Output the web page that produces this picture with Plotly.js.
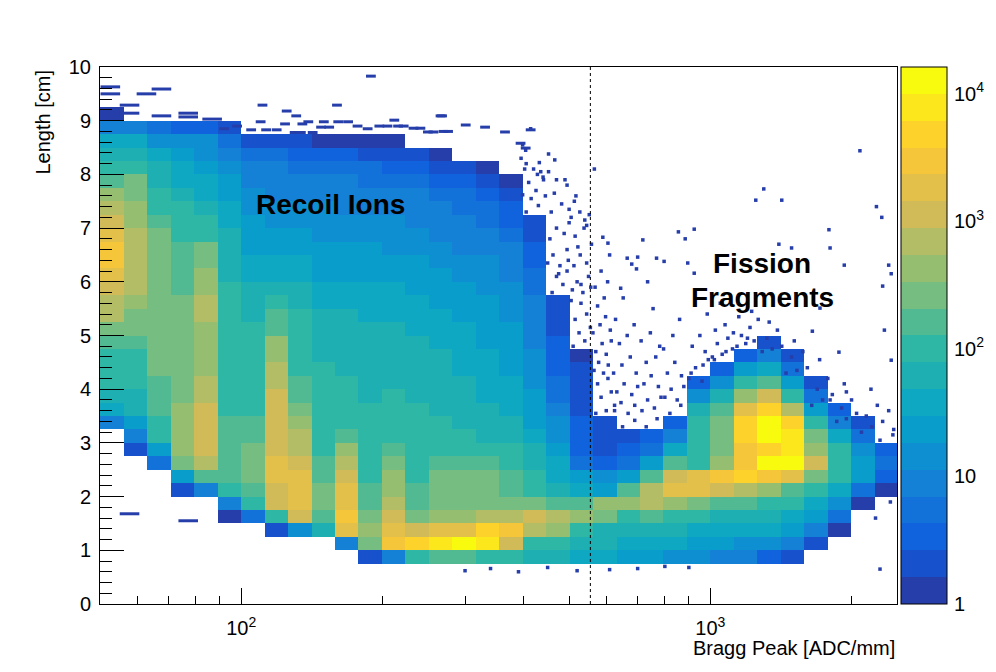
<!DOCTYPE html>
<html><head><meta charset="utf-8">
<script src="https://cdn.plot.ly/plotly-3.0.1.min.js"></script>
<style>html,body{margin:0;padding:0;background:#fff}#chart{width:996px;height:672px}</style>
</head><body><div id="chart"></div>
<script>
const _ = null;
// Bin edges (x: Bragg peak ADC/mm, log bins; y: track length cm)
const braggEdges = [50, 56.23, 63.10, 70.79, 79.43, 89.13, 100, 112.2, 125.9, 141.3, 158.5, 177.8, 199.5, 223.9, 251.2, 281.8, 316.2, 354.8, 398.1, 446.7, 501.2, 562.3, 631.0, 707.9, 794.3, 891.3, 1000, 1122, 1259, 1413, 1585, 1778, 1995, 2239, 2512];
const lengthEdges = [0,0.25,0.5,0.75,1,1.25,1.5,1.75,2,2.25,2.5,2.75,3,3.25,3.5,3.75,4,4.25,4.5,4.75,5,5.25,5.5,5.75,6,6.25,6.5,6.75,7,7.25,7.5,7.75,8,8.25,8.5,8.75,9,9.25,9.5,9.75,10];
// log10(counts) per Bragg-peak column, listed from Length 0 upward (null = empty bin)
const col00 = [_,_,_,_,_,_,_,_,_,_, _,_,_,1.0,1.6,1.8,2.0,2.05,2.1,2.2, 2.5,2.75,2.9,3.1,3.35,3.45,3.4,3.2,3.1,2.8, 2.6,2.3,2.1,1.7,1.5,0.9,0.2,_,_,_];
const col01 = [_,_,_,_,_,_,_,_,_,_, _,0.3,0.9,1.4,1.7,1.85,1.95,2.0,2.1,2.3, 2.45,2.5,2.6,2.75,2.8,2.85,2.85,2.8,2.7,2.55, 2.5,2.45,2.1,1.7,1.5,0.9,_,_,_,_];
const col02 = [_,_,_,_,_,_,_,_,_,_, 0.8,1.4,1.9,2.1,2.2,2.3,2.3,2.35,2.4,2.4, 2.45,2.5,2.5,2.5,2.5,2.5,2.45,2.4,2.25,2.1, 2.0,1.85,1.7,1.5,1.2,0.8,_,_,_,_];
const col03 = [_,_,_,_,_,_,_,_,0.3,1.4, 2.4,2.6,2.65,2.6,2.55,2.45,2.4,2.4,2.4,2.4, 2.4,2.4,2.35,2.3,2.25,2.2,2.15,2.1,2.0,1.9, 1.7,1.6,1.55,1.4,1.1,0.6,_,_,_,_];
const col04 = [_,_,_,_,_,_,_,_,0.9,2.2, 2.9,3.0,3.0,3.0,2.95,2.9,2.85,2.7,2.65,2.7, 2.7,2.75,2.75,2.7,2.55,2.5,2.4,2.0,1.9,1.85, 1.6,1.5,1.35,1.2,1.1,0.6,_,_,_,_];
const col05 = [_,_,_,_,_,_,0.2,1.0,2.0,2.2, 2.25,2.25,2.2,2.15,2.1,2.1,2.1,2.05,2.0,2.0, 1.95,1.95,1.9,1.9,1.85,1.85,1.8,1.7,1.6,1.5, 1.45,1.35,1.2,1.0,0.8,0.4,_,_,_,_];
const col06 = [_,_,_,_,_,_,0.8,2.0,2.3,2.35, 2.4,2.35,2.2,2.15,2.1,2.05,2.0,2.0,1.95,1.95, 1.9,1.85,1.8,1.7,1.6,1.55,1.45,1.4,1.3,1.25, 1.1,1.0,0.9,0.7,0.35,_,_,_,_,_];
const col07 = [_,_,_,_,_,0.3,2.0,3.0,3.1,3.2, 3.2,3.1,3.05,3.0,3.0,2.95,2.9,2.8,2.7,2.55, 2.3,2.2,1.9,1.8,1.65,1.55,1.45,1.35,1.25,1.2, 1.05,0.95,0.85,0.65,0.3,_,_,_,_,_];
const col08 = [_,_,_,_,_,1.2,3.0,3.3,3.35,3.3, 3.1,2.9,2.8,2.6,2.4,2.3,2.2,2.1,2.05,2.0, 1.95,1.9,1.8,1.7,1.6,1.5,1.4,1.35,1.25,1.15, 1.05,0.95,0.8,0.6,0.25,_,_,_,_,_];
const col09 = [_,_,_,_,_,1.8,2.3,2.4,2.35,2.3, 2.2,2.1,2.05,2.0,1.95,1.95,1.9,1.9,1.85,1.8, 1.75,1.7,1.6,1.55,1.45,1.4,1.3,1.25,1.15,1.1, 0.95,0.85,0.75,0.5,0.2,_,_,_,_,_];
const col10 = [_,_,_,_,1.0,3.3,3.45,3.35,3.2,3.05, 2.9,2.6,2.3,2.1,2.0,1.95,1.9,1.85,1.85,1.8, 1.75,1.7,1.6,1.55,1.45,1.4,1.3,1.2,1.15,1.05, 0.95,0.85,0.7,0.45,0.15,_,_,_,_,_];
const col11 = [_,_,_,0.3,2.5,2.7,2.4,2.3,2.2,2.1, 2.05,2.0,1.95,1.9,1.9,1.85,1.85,1.8,1.8,1.75, 1.7,1.65,1.6,1.5,1.45,1.35,1.3,1.2,1.1,1.0, 0.9,0.8,0.65,0.4,0.1,_,_,_,_,_];
const col12 = [_,_,_,1.0,3.4,3.3,3.15,2.9,2.7,2.6, 2.45,2.3,2.1,2.0,1.95,1.9,1.85,1.85,1.8,1.75, 1.7,1.65,1.55,1.5,1.4,1.35,1.25,1.15,1.1,1.0, 0.9,0.75,0.6,0.35,0.1,_,_,_,_,_];
const col13 = [_,_,_,2.1,3.6,3.0,2.5,2.3,2.2,2.1, 2.05,2.0,1.95,1.9,1.9,1.85,1.8,1.8,1.75,1.7, 1.65,1.6,1.5,1.45,1.35,1.3,1.2,1.1,1.0,0.95, 0.85,0.7,0.5,0.3,_,_,_,_,_,_];
const col14 = [_,_,_,2.3,3.9,3.3,2.6,2.5,2.45,2.4, 2.2,2.05,1.95,1.9,1.85,1.8,1.75,1.75,1.7,1.65, 1.6,1.55,1.45,1.4,1.3,1.25,1.15,1.05,0.95,0.9, 0.8,0.6,0.4,0.2,_,_,_,_,_,_];
const col15 = [_,_,_,2.3,4.1,3.3,2.6,2.5,2.45,2.35, 2.2,2.05,1.9,1.85,1.8,1.75,1.7,1.65,1.6,1.55, 1.5,1.45,1.4,1.3,1.25,1.15,1.05,1.0,0.9,0.8, 0.7,0.5,0.3,_,_,_,_,_,_,_];
const col16 = [_,_,_,2.0,3.8,3.6,2.9,2.5,2.5,2.4, 2.2,2.0,1.85,1.8,1.7,1.65,1.6,1.55,1.5,1.45, 1.4,1.35,1.3,1.25,1.15,1.1,1.0,0.9,0.8,0.7, 0.55,0.35,0.1,_,_,_,_,_,_,_];
const col17 = [_,_,_,1.9,3.0,3.4,2.9,2.4,2.3,2.2, 2.05,1.9,1.75,1.7,1.6,1.55,1.5,1.45,1.4,1.35, 1.3,1.25,1.2,1.1,1.0,0.95,0.85,0.75,0.6,0.5, 0.3,0.1,_,_,_,_,_,_,_,_];
const col18 = [_,_,_,1.8,2.1,2.9,3.0,2.4,2.0,1.9, 1.8,1.7,1.55,1.45,1.35,1.3,1.25,1.15,1.1,1.05, 0.95,0.9,0.85,0.8,0.7,0.6,0.5,0.4,0.3,_, _,_,_,_,_,_,_,_,_,_];
const col19 = [_,_,_,1.7,2.0,2.6,2.8,2.2,1.8,1.6, 1.5,1.4,1.2,1.1,0.9,0.8,0.7,0.6,0.5,0.45, 0.4,0.35,0.3,_,_,_,_,_,_,_, _,_,_,_,_,_,_,_,_,_];
const col20 = [_,_,_,1.6,1.8,2.1,2.65,2.2,1.5,1.3, 0.8,0.6,0.5,0.45,0.4,0.35,0.3,0.25,0.2,_, _,_,_,_,_,_,_,_,_,_, _,_,_,_,_,_,_,_,_,_];
const col21 = [_,_,_,1.5,1.7,1.8,2.4,2.6,1.4,1.1, 0.6,0.4,0.3,0.25,_,_,_,_,_,_, _,_,_,_,_,_,_,_,_,_, _,_,_,_,_,_,_,_,_,_];
const col22 = [_,_,_,1.4,1.6,1.7,2.1,2.7,2.2,1.4, 0.8,0.5,0.3,_,_,_,_,_,_,_, _,_,_,_,_,_,_,_,_,_, _,_,_,_,_,_,_,_,_,_];
const col23 = [_,_,_,1.3,1.6,1.8,2.2,2.8,2.9,2.2, 1.4,0.8,0.5,_,_,_,_,_,_,_, _,_,_,_,_,_,_,_,_,_, _,_,_,_,_,_,_,_,_,_];
const col24 = [_,_,_,1.2,1.5,1.7,2.1,2.6,3.2,3.0, 2.2,1.5,0.9,0.5,_,_,_,_,_,_, _,_,_,_,_,_,_,_,_,_, _,_,_,_,_,_,_,_,_,_];
const col25 = [_,_,_,1.1,1.4,1.6,2.0,2.4,3.2,3.2, 2.1,2.0,2.0,1.9,1.7,1.2,0.6,_,_,_, _,_,_,_,_,_,_,_,_,_, _,_,_,_,_,_,_,_,_,_];
const col26 = [_,_,_,1.0,1.3,1.5,1.8,2.2,3.0,3.5, 2.6,2.5,2.5,2.4,2.3,1.8,1.1,0.5,_,_, _,_,_,_,_,_,_,_,_,_, _,_,_,_,_,_,_,_,_,_];
const col27 = [_,_,_,0.9,1.2,1.5,1.8,2.3,2.9,3.7, 3.5,3.4,3.6,3.6,3.3,2.6,1.9,1.3,0.6,_, _,_,_,_,_,_,_,_,_,_, _,_,_,_,_,_,_,_,_,_];
const col28 = [_,_,_,0.6,1.2,1.5,1.8,2.1,2.6,3.5, 4.0,3.7,4.15,4.1,3.6,3.0,2.3,1.6,1.0,0.4, _,_,_,_,_,_,_,_,_,_, _,_,_,_,_,_,_,_,_,_];
const col29 = [_,_,_,0.3,0.9,1.3,1.6,1.9,2.3,3.2, 4.05,3.8,3.9,3.6,2.9,2.1,1.4,0.8,0.3,_, _,_,_,_,_,_,_,_,_,_, _,_,_,_,_,_,_,_,_,_];
const col30 = [_,_,_,_,0.3,0.9,1.3,1.6,2.0,2.5, 3.0,2.7,2.5,2.1,1.4,0.8,0.3,_,_,_, _,_,_,_,_,_,_,_,_,_, _,_,_,_,_,_,_,_,_,_];
const col31 = [_,_,_,_,_,0.2,0.7,1.1,1.5,1.9, 2.1,1.9,1.5,1.0,0.5,_,_,_,_,_, _,_,_,_,_,_,_,_,_,_, _,_,_,_,_,_,_,_,_,_];
const col32 = [_,_,_,_,_,_,_,0.2,0.8,1.3, 1.4,1.2,0.7,0.3,_,_,_,_,_,_, _,_,_,_,_,_,_,_,_,_, _,_,_,_,_,_,_,_,_,_];
const col33 = [_,_,_,_,_,_,_,_,0.1,0.6, 0.7,0.5,_,_,_,_,_,_,_,_, _,_,_,_,_,_,_,_,_,_, _,_,_,_,_,_,_,_,_,_];
const logCountColumns = [col00,col01,col02,col03,col04,col05,col06,col07,col08,col09,col10,col11,col12,col13,col14,col15,col16,col17,col18,col19,col20,col21,col22,col23,col24,col25,col26,col27,col28,col29,col30,col31,col32,col33];

// single-count bins (count = 1) read off the sparse areas
// wide low-x bins at the top-left edge
const wideSingleX = [52.6, 52.6, 62.8, 67.6, 57.8, 57.8, 67.6, 77.1, 77.1, 86.7, 57.8, 77.1];
const wideSingleY = [9.63, 9.50, 9.50, 9.59, 9.29, 9.14, 9.09, 9.14, 9.07, 9.03, 1.68, 1.55];
// upper fringe of the recoil band
const fringeSingleX = [110,125,131,124,135,139,150,169, 105,113,119,130,134,142,148,154,161, 177,186,197,205,212,216,222, 233,241,250,257,266,270,276, 111,160,189,92,98, 268,301,331,365,414,394,404];
const fringeSingleY = [8.98,9.18,9.09,8.94,8.94,8.98,8.98,8.98, 8.83,8.83,8.83,8.78,8.78,8.78,8.88,8.88,8.98, 8.9,8.85,8.9,8.9,9.01,8.9,8.9, 8.86,8.86,8.79,8.79,9.09,8.8,8.8, 9.29,9.29,9.83,8.85,8.9, 9.09,8.92,8.88,8.79,8.83,8.58,8.49];
// scattered single counts
const sparseX = [398,410,425,440,402,432,415,445,395,428, 450,462,478,495,455,470,488,500,458,482,465,490,452,475,498,
  508,520,535,550,512,528,545,558,515,538,552,505,530,556,522,
  565,578,592,606,570,588,600,615,562,582,598,612,575,594,568,604,585,610,590,605,
  625,645,668,690,632,655,680,700,622,648,675,695,640,665,628,688,652,644,665,680,700,696,
  715,735,760,785,722,748,775,730,765,712,745,780,755,735,718,768,
  800,825,850,878,810,840,868,795,832,860,797,855,884,
  900,930,960,990,915,950,975,924,895,924,985,
  1010,1035,1060,1090,1115,1025,1075,1120,1050,
  1140,1165,1190,1215,1240,1265,1150,1225,1250,1300,
  1290,1320,1355,1390,1420,1335,1420,1400,
  1450,1490,1530,1575,1610,1510,1490,1650,
  1645,1690,1735,1780,1820,1710,1713,1790,1800,1880,
  1860,1905,1950,2000,2050,1930,1930,2084,
  2100,2150,2210,2270,2330,2400,2460,2200,2350,2430,2330,2400,2430,2260,2320,2300,2420,2250,2460,2380,
  414,398,404,452,466,405,420,435,441,470,566,517,495,500,527,540,545,513,
  300,340,390,450,520,610,700,800,900,
  405,430,460,485,470,495,510,540,525,555,515,545,530,505,
  570,600,625,585,615,575,605,650,690,730,770,820,865,910,965,1020,1080,1200,1800,1950,2300,2450];
const sparseY = [7.62,7.85,7.7,7.95,8.1,8.22,7.55,7.6,8.3,8.0, 6.35,6.5,6.3,6.6,6.8,7.0,6.9,7.1,7.3,7.45,7.65,7.9,8.05,6.15,6.4,
  5.85,6.0,5.8,6.1,6.3,6.5,6.35,6.7,6.85,7.0,7.25,7.2,5.95,5.9,6.65,
  4.35,4.5,4.3,4.45,4.7,4.85,4.65,4.9,5.05,5.2,5.35,5.1,5.55,5.7,5.9,6.0,6.2,6.5,6.83,6.72,
  3.6,3.75,3.55,3.7,3.95,4.1,3.9,4.05,4.3,4.45,4.6,4.3,4.85,5.0,5.3,5.2,5.7,5.88,6.44,6.33,6.46,6.24,
  3.6,3.8,3.65,3.85,4.1,4.25,4.05,4.5,4.6,4.9,5.05,4.8,5.5,6.0,6.78,6.44,
  3.85,4.0,3.8,4.05,4.3,4.5,4.25,4.75,5.0,5.3,6.38,6.93,6.8,
  4.2,4.4,4.15,4.55,4.8,5.0,4.7,6.16,6.35,6.98,5.4,
  4.6,4.85,4.65,4.95,4.75,5.1,5.2,5.05,5.6,
  4.8,5.0,4.85,5.15,4.9,5.3,5.35,5.45,7.52,7.73,
  4.7,4.95,4.75,5.1,4.8,5.25,7.52,6.7,
  4.3,4.6,4.35,4.7,4.4,4.9,6.63,5.08,
  3.7,4.0,3.8,4.2,3.9,4.55,5.51,6.97,6.63,4.69,
  3.4,3.65,3.45,3.8,3.55,4.1,6.31,8.44,
  3.2,3.5,3.3,3.7,3.4,3.6,3.25,4.0,5.1,4.54,5.92,6.31,6.15,7.4,7.2,0.65,1.9,1.6,2.05,2.2,
  8.85,8.55,8.45,8.38,8.27,8.2,8.1,8.05,7.9,7.9,8.1,7.6,7.8,7.35,7.3,7.15,7.05,7.5,
  0.62,0.66,0.6,0.68,0.62,0.64,0.66,0.7,0.68,
  7.3,7.42,5.8,5.95,6.1,6.2,4.8,4.9,5.05,5.15,5.3,5.4,5.6,5.65,
  3.55,3.6,3.7,3.85,3.95,4.1,4.2,3.3,3.42,3.3,3.45,3.55,3.7,4.3,4.45,4.55,4.7,4.95,3.8,3.95,3.05,3.15];

const cutValue = 555; // dashed vertical cut [ADC/mm]
const xTickVals = [100, 1000];
const xTickText = ['10<sup>2</sup>', '10<sup>3</sup>'];
const xMinorVals = [60,70,80,90,200,300,400,500,600,700,800,900,2000];
const cbTickVals = [1, 10, 100, 1000, 10000];
const cbTickText = ['1', '10', '10<sup>2</sup>', '10<sup>3</sup>', '10<sup>4</sup>'];
const cbMinorVals = [2,3,4,5,6,7,8,9,20,30,40,50,60,70,80,90,200,300,400,500,600,700,800,900,2000,3000,4000,5000,6000,7000,8000,9000];
const zMaxLog = 4.21;

// ROOT "kBird" palette, 20 contour bands
const birdStops = [[0,[53,42,135]],[0.125,[15,92,221]],[0.25,[20,129,214]],[0.375,[6,164,202]],[0.5,[46,183,164]],[0.625,[135,191,119]],[0.75,[209,187,89]],[0.875,[254,200,50]],[1,[249,251,14]]];
function bird(f){
  for (let i=0;i<birdStops.length-1;i++){
    const a=birdStops[i], b=birdStops[i+1];
    if (f<=b[0]+1e-9){
      const t=(f-a[0])/(b[0]-a[0]);
      const c=a[1].map((v,k)=>Math.round(v+(b[1][k]-v)*t));
      return 'rgb('+c.join(',')+')';
    }
  }
  return 'rgb(249,251,14)';
}
const nBands = 20;
const colorscale = [];
for (let i=0;i<nBands;i++){ const c=bird((i+1)/nBands); colorscale.push([i/nBands,c],[(i+1)/nBands,c]); }
const singleCountColor = bird(1/nBands);

const FONT = 'Liberation Sans, Arial, Helvetica, sans-serif';
const W = 996, H = 672, ML = 100, MR = 36, MT = 67, MB = 68;
const PW = W-ML-MR;
const xDomEnd = 797/PW;
const cbLeft = 801/PW;
const cbRight = 847/PW;

const traces = [
  {
    type: 'heatmap',
    x: braggEdges, y: lengthEdges, z: logCountColumns, transpose: true,
    zmin: 0, zmax: zMaxLog, colorscale: colorscale, zsmooth: false,
    hoverinfo: 'skip',
    colorbar: {x: cbLeft, xanchor: 'left', xref: 'paper', y: 0, yanchor: 'bottom', yref: 'paper',
      len: 1, lenmode: 'fraction', thickness: 46, thicknessmode: 'pixels', xpad: 0, ypad: 0,
      outlinewidth: 1, outlinecolor: '#000', showticklabels: false, ticks: ''}
  },
  { type: 'scatter', mode: 'markers', x: sparseX, y: sparseY, hoverinfo: 'skip', showlegend: false,
    marker: {symbol: 'square', size: 3.5, color: singleCountColor, line: {width: 0}} },
  { type: 'scatter', mode: 'markers', x: fringeSingleX, y: fringeSingleY, hoverinfo: 'skip', showlegend: false,
    marker: {symbol: 'line-ew', size: 7, color: singleCountColor, line: {width: 3, color: singleCountColor}} },
  { type: 'scatter', mode: 'markers', x: wideSingleX, y: wideSingleY, hoverinfo: 'skip', showlegend: false,
    marker: {symbol: 'line-ew', size: 14, color: singleCountColor, line: {width: 3, color: singleCountColor}} },
  {
    type: 'scatter', mode: 'lines', x: [cutValue, cutValue], y: [lengthEdges[0], lengthEdges[lengthEdges.length-1]],
    line: {color: '#000', width: 1, dash: '3px,3px'}, hoverinfo: 'skip', showlegend: false
  },
  { type: 'scatter', mode: 'markers', x: [], y: [], yaxis: 'y2', hoverinfo: 'skip', showlegend: false }
];

const layout = {
  width: W, height: H,
  margin: {l: ML, r: MR, t: MT, b: MB, pad: 0},
  paper_bgcolor: '#fff', plot_bgcolor: '#fff',
  showlegend: false,
  font: {family: FONT, size: 20, color: '#000'},
  xaxis: {
    type: 'log', domain: [0, xDomEnd], range: [Math.log10(50), Math.log10(2500)],
    tickmode: 'array', tickvals: xTickVals, ticktext: xTickText,
    ticks: 'inside', ticklen: 16, tickwidth: 1, tickcolor: '#000',
    minor: {tickmode: 'array', tickvals: xMinorVals, ticks: 'inside', ticklen: 8, tickwidth: 1, tickcolor: '#000', showgrid: false},
    showline: true, linecolor: '#000', linewidth: 1, mirror: true,
    showgrid: false, zeroline: false, tickfont: {family: FONT, size: 20}, ticklabelstandoff: 6
  },
  yaxis: {
    range: [0, 10], tickmode: 'linear', tick0: 0, dtick: 1,
    ticks: 'inside', ticklen: 24, tickwidth: 1, tickcolor: '#000',
    minor: {dtick: 0.2, ticks: 'inside', ticklen: 12, tickwidth: 1, tickcolor: '#000', showgrid: false},
    showline: true, linecolor: '#000', linewidth: 1, mirror: true,
    showgrid: false, zeroline: false, tickfont: {family: FONT, size: 20}, ticklabelstandoff: 4
  },
  yaxis2: {
    type: 'log', overlaying: 'y', anchor: 'free', position: cbRight, side: 'right',
    range: [0, zMaxLog], tickmode: 'array', tickvals: cbTickVals, ticktext: cbTickText,
    ticks: 'inside', ticklen: 23, tickwidth: 1, tickcolor: '#000',
    minor: {tickmode: 'array', tickvals: cbMinorVals, ticks: 'inside', ticklen: 12, tickwidth: 1, tickcolor: '#000', showgrid: false},
    showline: false, showgrid: false, zeroline: false, tickfont: {family: FONT, size: 20}, ticklabelstandoff: 6
  },
  annotations: [
    {text: '<b>Recoil Ions</b>', xref: 'paper', yref: 'paper', x: 230/PW, y: (604-204)/537, showarrow: false,
     xanchor: 'center', yanchor: 'middle', font: {family: FONT, size: 28, color: '#000'}},
    {text: '<b>Fission</b>', xref: 'paper', yref: 'paper', x: 662/PW, y: (604-263)/537, showarrow: false,
     xanchor: 'center', yanchor: 'middle', font: {family: FONT, size: 28, color: '#000'}},
    {text: '<b>Fragments</b>', xref: 'paper', yref: 'paper', x: 662/PW, y: (604-297)/537, showarrow: false,
     xanchor: 'center', yanchor: 'middle', font: {family: FONT, size: 28, color: '#000'}},
    {text: 'Length [cm]', xref: 'paper', yref: 'paper', x: (42-ML)/PW, y: 1, textangle: -90, showarrow: false,
     xanchor: 'center', yanchor: 'top', font: {family: FONT, size: 20, color: '#000'}},
    {text: 'Bragg Peak [ADC/mm]', xref: 'paper', yref: 'paper', x: xDomEnd, y: (604-648)/537, showarrow: false,
     xanchor: 'right', yanchor: 'middle', font: {family: FONT, size: 20, color: '#000'}}
  ]
};

Plotly.newPlot('chart', traces, layout, {displayModeBar: false, staticPlot: true});
</script>
</body></html>
